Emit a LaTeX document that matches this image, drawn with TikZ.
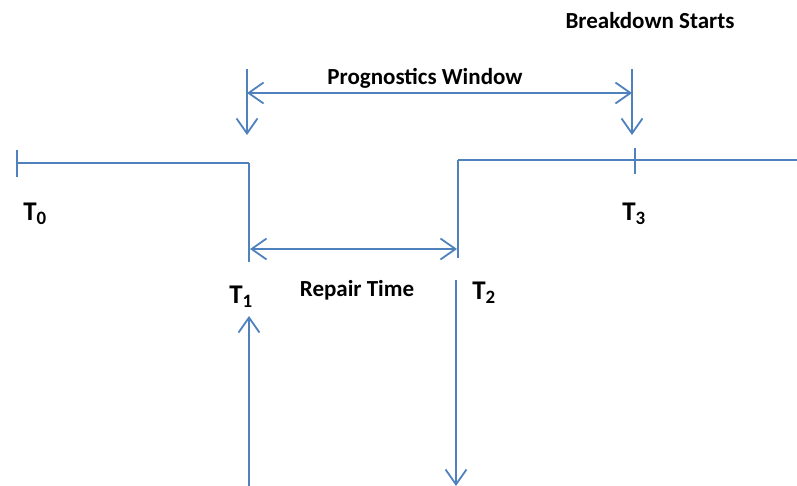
\documentclass[tikz,border=0pt]{standalone}
\usepackage{fontspec}
\setmainfont{Carlito}
\usetikzlibrary{arrows.meta,positioning,calc}

\begin{document}
\begin{tikzpicture}[
    x=1pt, y=-1pt,
    line/.style={draw=blueline, line width=2pt},
    edge/.style={draw=blueline, line width=2.8pt},
    arrow/.style={draw=blueline, line width=1.8pt, -{Straight Barb[length=15pt,width=21pt,line width=1.8pt]}},
    darrow/.style={draw=blueline, line width=1.8pt, {Straight Barb[length=15pt,width=21pt,line width=1.8pt]}-{Straight Barb[length=15pt,width=21pt,line width=1.8pt]}},
    label/.style={font=\bfseries\fontsize{23}{26}\selectfont, inner sep=0pt},
    tlabel/.style={font=\bfseries\fontsize{27}{30}\selectfont, inner sep=0pt}
]
    \definecolor{blueline}{HTML}{4F81BD}
    \useasboundingbox (0,0) rectangle (797,486);

    % Time line points
    \coordinate (t0) at (17,163);
    \coordinate (t1top) at (249,163);
    \coordinate (t1bot) at (249,262);
    \coordinate (t2top) at (458,160);
    \coordinate (t2bot) at (458,258);
    \coordinate (tend) at (797,160);
    \coordinate (t3) at (635,160);

    % Time line
    \draw[line] (t0) -- (t1top);
    \draw[edge] (t1top) -- (t1bot);
    \draw[edge] (t2bot) -- (t2top);
    \draw[line] (t2top) -- (tend);
    \draw[line] ($(t0)+(0,-13)$) -- ($(t0)+(0,14)$);
    \draw[line] ($(t3)+(0,-12)$) -- ($(t3)+(0,14)$);

    % Prognostics window
    \coordinate (pwl) at (247,69);
    \coordinate (pwr) at (632,69);
    \draw[arrow] (pwl) -- ($(pwl)+(0,66)$);
    \draw[arrow] (pwr) -- ($(pwr)+(0,66)$);
    \draw[darrow] ($(pwl)+(0,24)$) -- ($(pwr)+(0,24)$);
    \node[label] (pw) at (425,78) {Prognostics Window};
    \node[label] (bs) at (650,21) {Breakdown Starts};

    % Repair time
    \coordinate (rtl) at (250,249);
    \coordinate (rtr) at (457,249);
    \draw[darrow] (rtl) -- (rtr);
    \node[label] (rt) at (357,290) {Repair Time};

    % Bottom arrows
    \coordinate (upb) at (249,486);
    \coordinate (upt) at (249,316);
    \coordinate (dnt) at (456,280);
    \coordinate (dnb) at (456,486);
    \draw[arrow] (upb) -- (upt);
    \draw[arrow] (dnt) -- (dnb);

    % Time labels
    \node[tlabel] (T0) at (35,214) {T$_\mathbf{0}$};
    \node[tlabel] (T1) at (241,297) {T$_\mathbf{1}$};
    \node[tlabel] (T2) at (484,293) {T$_\mathbf{2}$};
    \node[tlabel] (T3) at (634,214) {T$_\mathbf{3}$};
\end{tikzpicture}
\end{document}
